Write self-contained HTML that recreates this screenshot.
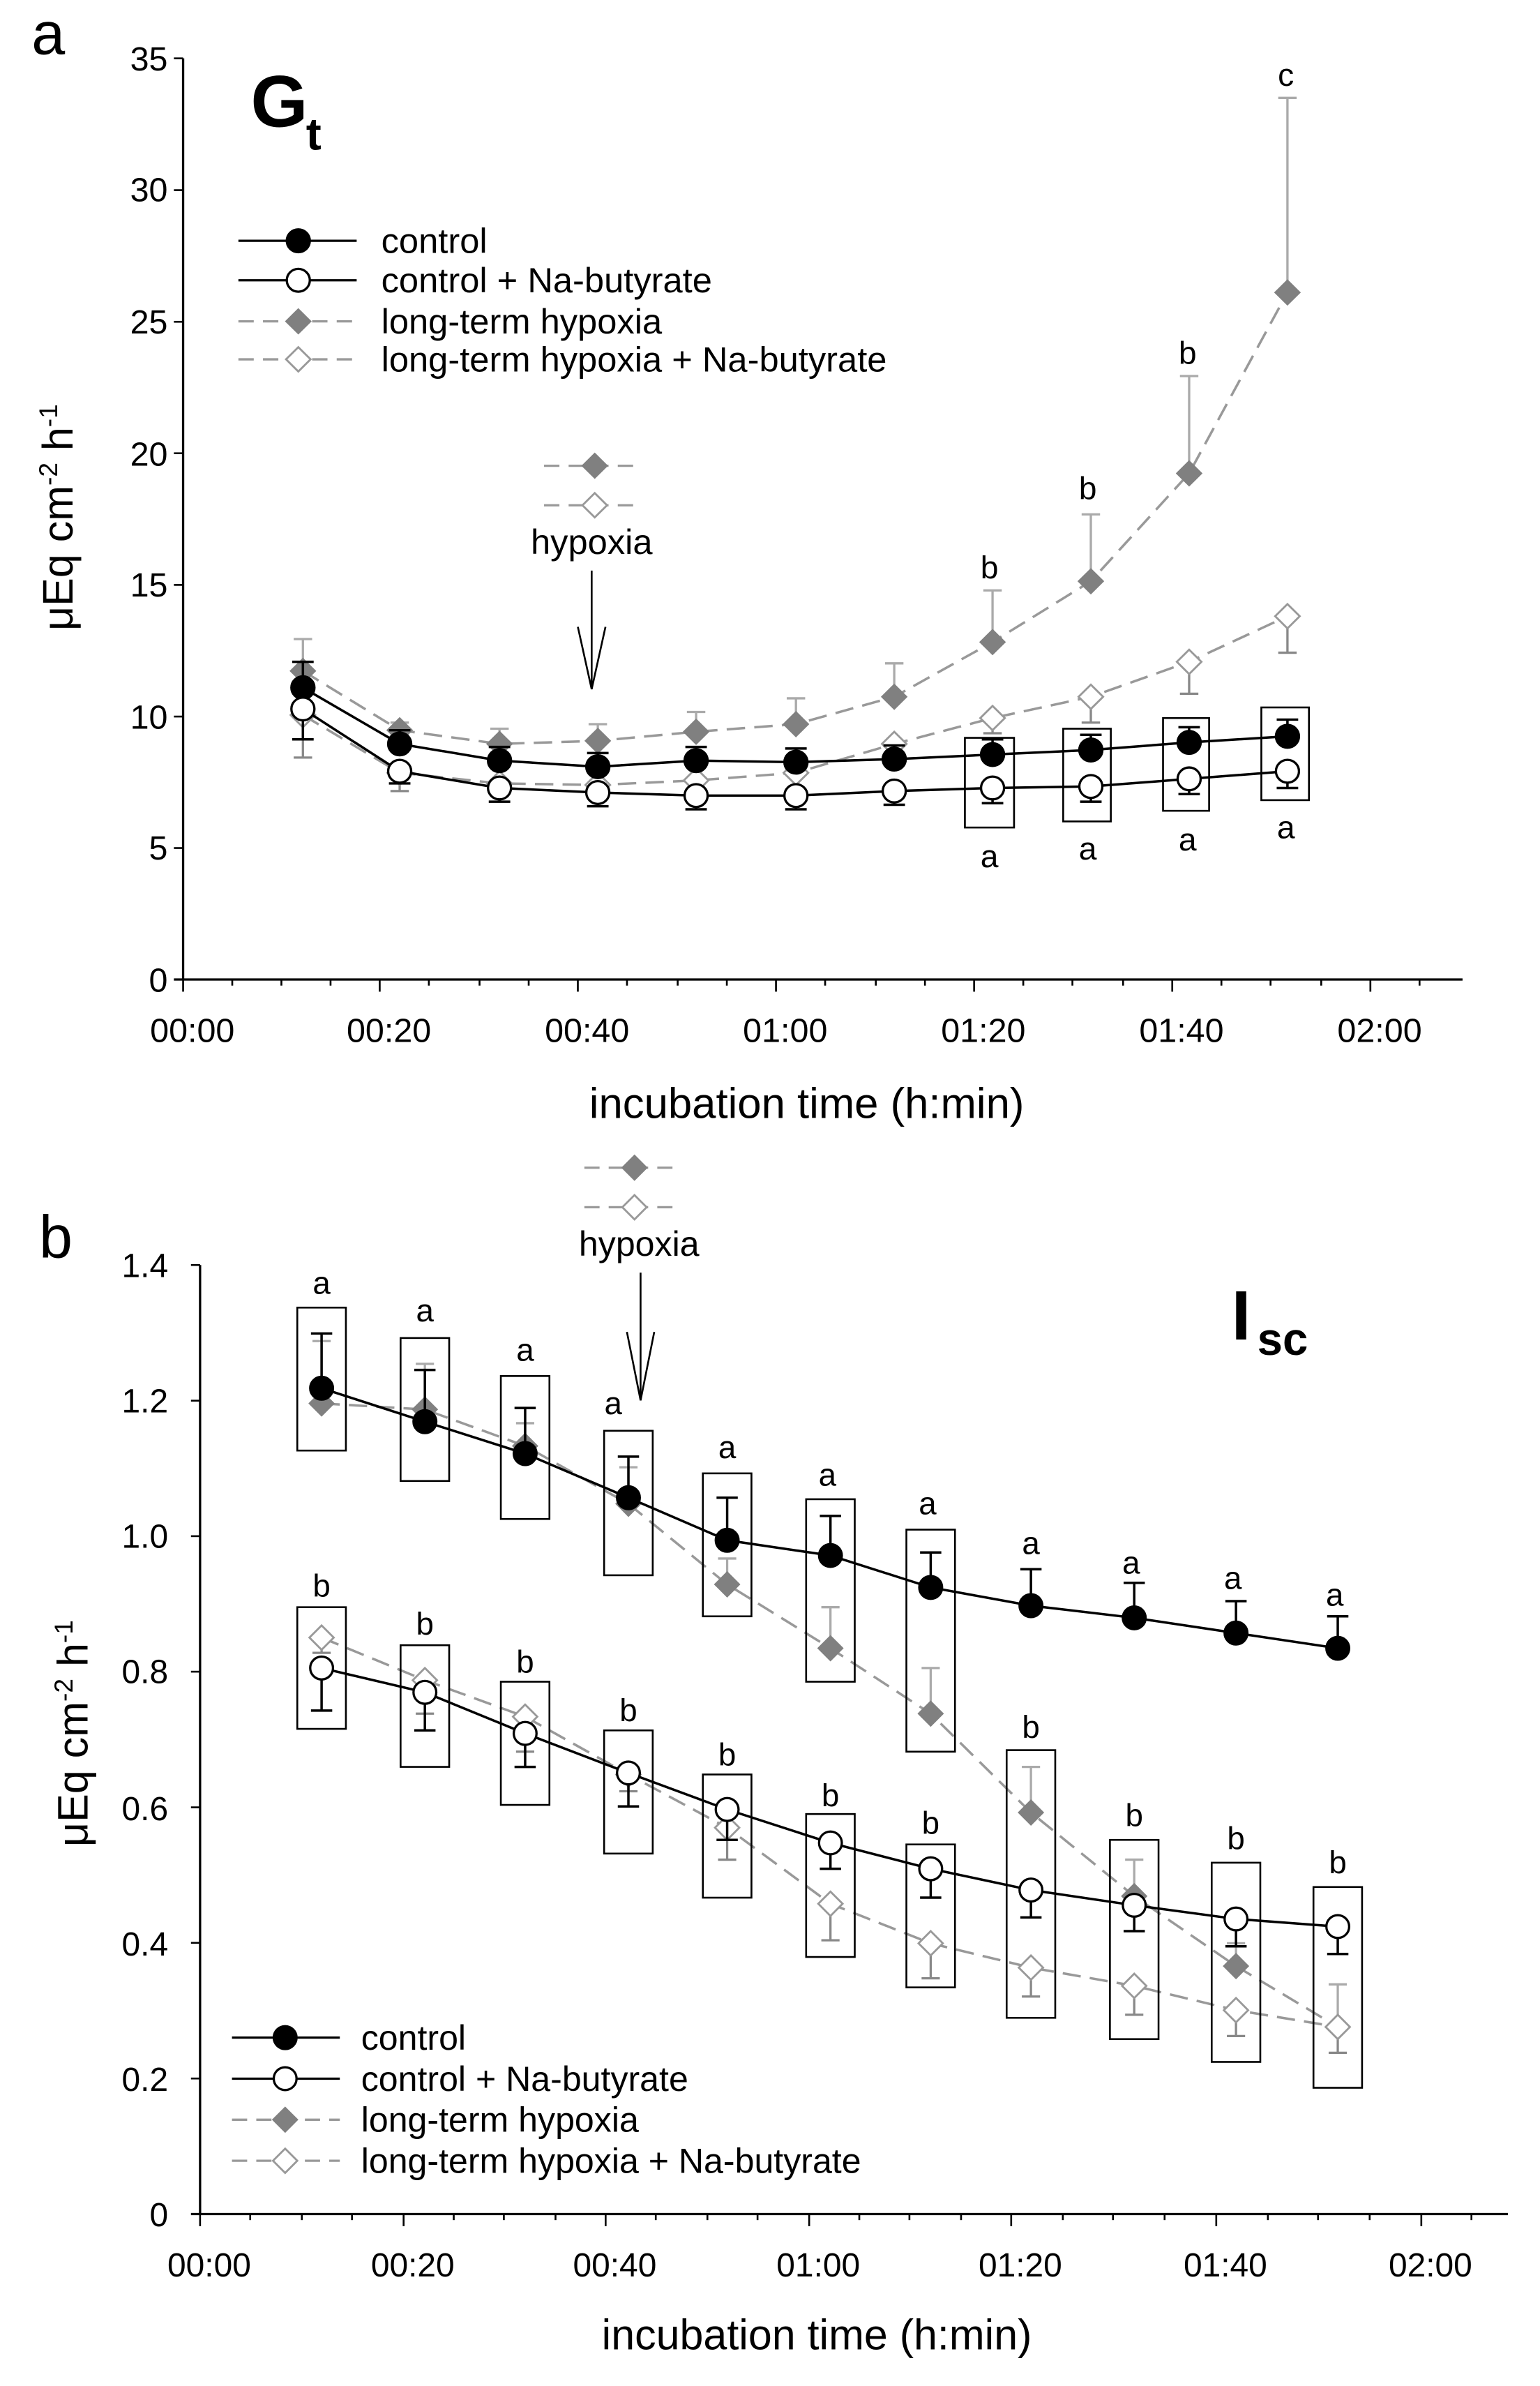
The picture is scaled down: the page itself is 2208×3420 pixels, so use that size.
<!DOCTYPE html>
<html><head><meta charset="utf-8"><style>html,body{margin:0;padding:0;background:#fff}svg{display:block}text{font-family:"Liberation Sans",sans-serif}</style></head>
<body>
<svg width="2208" height="3420" viewBox="0 0 1024 1586" preserveAspectRatio="none" xmlns="http://www.w3.org/2000/svg">
<defs>
<g id="cf"><circle r="7.5" fill="#000" stroke="#000" stroke-width="1.5"/></g>
<g id="co"><circle r="7.5" fill="#fff" stroke="#000" stroke-width="1.5"/></g>
<g id="df"><path d="M0,-8 L8,0 L0,8 L-8,0Z" fill="#808080" stroke="#808080" stroke-width="1"/></g>
<g id="do"><path d="M0,-8 L8,0 L0,8 L-8,0Z" fill="#fff" stroke="#999" stroke-width="1.3"/></g>
</defs>
<rect width="1024" height="1586" fill="#fff"/>

<text x="21" y="36" font-size="40">a</text>
<text x="26" y="836" font-size="40">b</text>

<!-- ===== PANEL A ===== -->
<g transform="matrix(1.0213,0,0,1.0104,-15.1,0.4)">
<g stroke="#000" stroke-width="1.5" fill="none">
<line x1="134" y1="38" x2="134" y2="644"/>
<line x1="128" y1="644" x2="967" y2="644"/>
</g>
<g stroke="#000" stroke-width="1.2">
<line x1="128" y1="557.5" x2="134" y2="557.5"/><line x1="128" y1="471" x2="134" y2="471"/><line x1="128" y1="384.4" x2="134" y2="384.4"/><line x1="128" y1="297.8" x2="134" y2="297.8"/><line x1="128" y1="211.3" x2="134" y2="211.3"/><line x1="128" y1="124.7" x2="134" y2="124.7"/><line x1="128" y1="38" x2="134" y2="38"/>
<line x1="134" y1="644" x2="134" y2="652"/><line x1="262" y1="644" x2="262" y2="652"/><line x1="391" y1="644" x2="391" y2="652"/><line x1="520" y1="644" x2="520" y2="652"/><line x1="649" y1="644" x2="649" y2="652"/><line x1="778" y1="644" x2="778" y2="652"/><line x1="907" y1="644" x2="907" y2="652"/>
<line x1="166" y1="644" x2="166" y2="648"/><line x1="198" y1="644" x2="198" y2="648"/><line x1="230" y1="644" x2="230" y2="648"/>
<line x1="294" y1="644" x2="294" y2="648"/><line x1="327" y1="644" x2="327" y2="648"/><line x1="359" y1="644" x2="359" y2="648"/>
<line x1="423" y1="644" x2="423" y2="648"/><line x1="456" y1="644" x2="456" y2="648"/><line x1="488" y1="644" x2="488" y2="648"/>
<line x1="552" y1="644" x2="552" y2="648"/><line x1="585" y1="644" x2="585" y2="648"/><line x1="617" y1="644" x2="617" y2="648"/>
<line x1="681" y1="644" x2="681" y2="648"/><line x1="713" y1="644" x2="713" y2="648"/><line x1="746" y1="644" x2="746" y2="648"/>
<line x1="810" y1="644" x2="810" y2="648"/><line x1="842" y1="644" x2="842" y2="648"/><line x1="875" y1="644" x2="875" y2="648"/>
<line x1="939" y1="644" x2="939" y2="648"/>
</g>
<g font-size="22" text-anchor="end">
<text x="124" y="652">0</text><text x="124" y="565">5</text><text x="124" y="479">10</text><text x="124" y="392">15</text><text x="124" y="306">20</text><text x="124" y="219">25</text><text x="124" y="132">30</text><text x="124" y="46">35</text>
</g>
<g font-size="22" text-anchor="middle">
<text x="140" y="685">00:00</text><text x="268" y="685">00:20</text><text x="397" y="685">00:40</text><text x="526" y="685">01:00</text><text x="655" y="685">01:20</text><text x="784" y="685">01:40</text><text x="913" y="685">02:00</text>
</g>
<text x="540" y="735" font-size="28" text-anchor="middle">incubation time (h:min)</text>
<text transform="translate(62,340) rotate(-90)" font-size="28" text-anchor="middle">μEq cm<tspan dy="-10" font-size="17">-2</tspan><tspan dy="10"> h</tspan><tspan dy="-10" font-size="17">-1</tspan></text>
<text x="178" y="83" font-size="48" font-weight="bold">G</text><text x="214" y="98" font-size="30" font-weight="bold">t</text>

<line x1="170" y1="158" x2="247" y2="158" stroke="#000" stroke-width="1.5"/><use href="#cf" x="209" y="158"/>
<line x1="170" y1="184" x2="247" y2="184" stroke="#000" stroke-width="1.5"/><use href="#co" x="209" y="184"/>
<line x1="170" y1="211" x2="247" y2="211" stroke="#999" stroke-width="1.5" stroke-dasharray="10,6"/><use href="#df" x="209" y="211"/>
<line x1="170" y1="236" x2="247" y2="236" stroke="#999" stroke-width="1.5" stroke-dasharray="10,6"/><use href="#do" x="209" y="236"/>
<g font-size="23"><text x="263" y="166">control</text><text x="263" y="192">control + Na-butyrate</text><text x="263" y="219">long-term hypoxia</text><text x="263" y="244">long-term hypoxia + Na-butyrate</text></g>

<line x1="369" y1="306" x2="432" y2="306" stroke="#999" stroke-width="1.5" stroke-dasharray="10,6"/><use href="#df" x="402" y="306"/>
<line x1="369" y1="332" x2="432" y2="332" stroke="#999" stroke-width="1.5" stroke-dasharray="10,6"/><use href="#do" x="402" y="332"/>
<text x="400" y="364" font-size="23" text-anchor="middle">hypoxia</text>
<line x1="400" y1="375" x2="400" y2="453" stroke="#000" stroke-width="1.2"/>
<path d="M391,412 L400,453 L409,412" fill="none" stroke="#000" stroke-width="1.2"/>

<g stroke="#aaa" stroke-width="1.5">
<line x1="212" y1="441" x2="212" y2="420"/><line x1="206" y1="420" x2="218" y2="420"/>
<line x1="275" y1="480" x2="275" y2="475"/><line x1="269" y1="475" x2="281" y2="475"/>
<line x1="340" y1="489" x2="340" y2="479"/><line x1="334" y1="479" x2="346" y2="479"/>
<line x1="404" y1="487" x2="404" y2="476"/><line x1="398" y1="476" x2="410" y2="476"/>
<line x1="468" y1="481" x2="468" y2="468"/><line x1="462" y1="468" x2="474" y2="468"/>
<line x1="533" y1="476" x2="533" y2="459"/><line x1="527" y1="459" x2="539" y2="459"/>
<line x1="597" y1="458" x2="597" y2="436"/><line x1="591" y1="436" x2="603" y2="436"/>
<line x1="661" y1="422" x2="661" y2="388"/><line x1="655" y1="388" x2="667" y2="388"/>
<line x1="725" y1="382" x2="725" y2="338"/><line x1="719" y1="338" x2="731" y2="338"/>
<line x1="789" y1="311" x2="789" y2="247"/><line x1="783" y1="247" x2="795" y2="247"/>
<line x1="853" y1="192" x2="853" y2="64"/><line x1="847" y1="64" x2="859" y2="64"/>
</g>
<g stroke="#888" stroke-width="1.5">
<line x1="212" y1="470" x2="212" y2="498"/><line x1="206" y1="498" x2="218" y2="498"/>
<line x1="275" y1="508" x2="275" y2="520"/><line x1="269" y1="520" x2="281" y2="520"/>
<line x1="340" y1="515" x2="340" y2="523"/><line x1="334" y1="523" x2="346" y2="523"/>
<line x1="661" y1="472" x2="661" y2="482"/><line x1="655" y1="482" x2="667" y2="482"/>
<line x1="725" y1="458" x2="725" y2="475"/><line x1="719" y1="475" x2="731" y2="475"/>
<line x1="789" y1="435" x2="789" y2="456"/><line x1="783" y1="456" x2="795" y2="456"/>
<line x1="853" y1="405" x2="853" y2="429"/><line x1="847" y1="429" x2="859" y2="429"/>
</g>
<polyline points="212,441 275,480 340,489 404,487 468,481 533,476 597,458 661,422 725,382 789,311 853,192" fill="none" stroke="#999" stroke-width="1.6" stroke-dasharray="12,6"/>
<polyline points="212,470 275,508 340,515 404,516 468,513 533,508 597,489 661,472 725,458 789,435 853,405" fill="none" stroke="#999" stroke-width="1.6" stroke-dasharray="12,6"/>
<g><use href="#df" x="212" y="441"/><use href="#df" x="275" y="480"/><use href="#df" x="340" y="489"/><use href="#df" x="404" y="487"/><use href="#df" x="468" y="481"/><use href="#df" x="533" y="476"/><use href="#df" x="597" y="458"/><use href="#df" x="661" y="422"/><use href="#df" x="725" y="382"/><use href="#df" x="789" y="311"/><use href="#df" x="853" y="192"/></g>
<g><use href="#do" x="212" y="470"/><use href="#do" x="275" y="508"/><use href="#do" x="340" y="515"/><use href="#do" x="404" y="516"/><use href="#do" x="468" y="513"/><use href="#do" x="533" y="508"/><use href="#do" x="597" y="489"/><use href="#do" x="661" y="472"/><use href="#do" x="725" y="458"/><use href="#do" x="789" y="435"/><use href="#do" x="853" y="405"/></g>

<g fill="none" stroke="#000" stroke-width="1.2">
<rect x="643" y="485" width="32" height="59"/><rect x="707" y="479" width="31" height="61"/><rect x="772" y="472" width="30" height="61"/><rect x="836" y="465" width="31" height="61"/>
</g>
<g stroke="#000" stroke-width="1.6">
<line x1="212" y1="452" x2="212" y2="435"/><line x1="205" y1="435" x2="219" y2="435"/>
<line x1="275" y1="489" x2="275" y2="480"/><line x1="268" y1="480" x2="282" y2="480"/>
<line x1="340" y1="500" x2="340" y2="491"/><line x1="333" y1="491" x2="347" y2="491"/>
<line x1="404" y1="504" x2="404" y2="495"/><line x1="397" y1="495" x2="411" y2="495"/>
<line x1="468" y1="500" x2="468" y2="491"/><line x1="461" y1="491" x2="475" y2="491"/>
<line x1="533" y1="501" x2="533" y2="492"/><line x1="526" y1="492" x2="540" y2="492"/>
<line x1="597" y1="499" x2="597" y2="490"/><line x1="590" y1="490" x2="604" y2="490"/>
<line x1="661" y1="496" x2="661" y2="486"/><line x1="654" y1="486" x2="668" y2="486"/>
<line x1="725" y1="493" x2="725" y2="483"/><line x1="718" y1="483" x2="732" y2="483"/>
<line x1="789" y1="488" x2="789" y2="478"/><line x1="782" y1="478" x2="796" y2="478"/>
<line x1="853" y1="484" x2="853" y2="473"/><line x1="846" y1="473" x2="860" y2="473"/>
<line x1="212" y1="466" x2="212" y2="486"/><line x1="205" y1="486" x2="219" y2="486"/>
<line x1="275" y1="507" x2="275" y2="515"/><line x1="268" y1="515" x2="282" y2="515"/>
<line x1="340" y1="518" x2="340" y2="527"/><line x1="333" y1="527" x2="347" y2="527"/>
<line x1="404" y1="521" x2="404" y2="530"/><line x1="397" y1="530" x2="411" y2="530"/>
<line x1="468" y1="523" x2="468" y2="532"/><line x1="461" y1="532" x2="475" y2="532"/>
<line x1="533" y1="523" x2="533" y2="532"/><line x1="526" y1="532" x2="540" y2="532"/>
<line x1="597" y1="520" x2="597" y2="529"/><line x1="590" y1="529" x2="604" y2="529"/>
<line x1="661" y1="518" x2="661" y2="528"/><line x1="654" y1="528" x2="668" y2="528"/>
<line x1="725" y1="517" x2="725" y2="527"/><line x1="718" y1="527" x2="732" y2="527"/>
<line x1="789" y1="512" x2="789" y2="522"/><line x1="782" y1="522" x2="796" y2="522"/>
<line x1="853" y1="507" x2="853" y2="518"/><line x1="846" y1="518" x2="860" y2="518"/>
</g>
<polyline points="212,452 275,489 340,500 404,504 468,500 533,501 597,499 661,496 725,493 789,488 853,484" fill="none" stroke="#000" stroke-width="1.6"/>
<polyline points="212,466 275,507 340,518 404,521 468,523 533,523 597,520 661,518 725,517 789,512 853,507" fill="none" stroke="#000" stroke-width="1.6"/>
<g><use href="#cf" x="212" y="452"/><use href="#cf" x="275" y="489"/><use href="#cf" x="340" y="500"/><use href="#cf" x="404" y="504"/><use href="#cf" x="468" y="500"/><use href="#cf" x="533" y="501"/><use href="#cf" x="597" y="499"/><use href="#cf" x="661" y="496"/><use href="#cf" x="725" y="493"/><use href="#cf" x="789" y="488"/><use href="#cf" x="853" y="484"/></g>
<g><use href="#co" x="212" y="466"/><use href="#co" x="275" y="507"/><use href="#co" x="340" y="518"/><use href="#co" x="404" y="521"/><use href="#co" x="468" y="523"/><use href="#co" x="533" y="523"/><use href="#co" x="597" y="520"/><use href="#co" x="661" y="518"/><use href="#co" x="725" y="517"/><use href="#co" x="789" y="512"/><use href="#co" x="853" y="507"/></g>
<g font-size="21" text-anchor="middle">
<text x="659" y="570">a</text><text x="723" y="565">a</text><text x="788" y="559">a</text><text x="852" y="551">a</text>
<text x="659" y="380">b</text><text x="723" y="328">b</text><text x="788" y="239">b</text><text x="852" y="56">c</text>
</g>
</g>

<!-- ===== PANEL B ===== -->
<g transform="matrix(1.01,0,0,1.0109,-2.3,-0.2)">
<g stroke="#000" stroke-width="1.5" fill="none">
<line x1="134" y1="832" x2="134" y2="1456"/>
<line x1="128" y1="1456" x2="995" y2="1456"/>
</g>
<g stroke="#000" stroke-width="1.2">
<line x1="128" y1="1366.9" x2="134" y2="1366.9"/><line x1="128" y1="1277.7" x2="134" y2="1277.7"/><line x1="128" y1="1188.6" x2="134" y2="1188.6"/><line x1="128" y1="1099.4" x2="134" y2="1099.4"/><line x1="128" y1="1010.3" x2="134" y2="1010.3"/><line x1="128" y1="921.2" x2="134" y2="921.2"/><line x1="128" y1="832" x2="134" y2="832"/>
<line x1="134" y1="1456" x2="134" y2="1464"/><line x1="268" y1="1456" x2="268" y2="1464"/><line x1="401" y1="1456" x2="401" y2="1464"/><line x1="535" y1="1456" x2="535" y2="1464"/><line x1="668" y1="1456" x2="668" y2="1464"/><line x1="803" y1="1456" x2="803" y2="1464"/><line x1="938" y1="1456" x2="938" y2="1464"/>
<line x1="167" y1="1456" x2="167" y2="1460"/><line x1="201" y1="1456" x2="201" y2="1460"/><line x1="234" y1="1456" x2="234" y2="1460"/>
<line x1="301" y1="1456" x2="301" y2="1460"/><line x1="334" y1="1456" x2="334" y2="1460"/><line x1="368" y1="1456" x2="368" y2="1460"/>
<line x1="434" y1="1456" x2="434" y2="1460"/><line x1="468" y1="1456" x2="468" y2="1460"/><line x1="501" y1="1456" x2="501" y2="1460"/>
<line x1="568" y1="1456" x2="568" y2="1460"/><line x1="601" y1="1456" x2="601" y2="1460"/><line x1="635" y1="1456" x2="635" y2="1460"/>
<line x1="702" y1="1456" x2="702" y2="1460"/><line x1="735" y1="1456" x2="735" y2="1460"/><line x1="769" y1="1456" x2="769" y2="1460"/>
<line x1="837" y1="1456" x2="837" y2="1460"/><line x1="870" y1="1456" x2="870" y2="1460"/><line x1="904" y1="1456" x2="904" y2="1460"/>
<line x1="971" y1="1456" x2="971" y2="1460"/>
</g>
<g font-size="22" text-anchor="end">
<text x="113" y="1464">0</text><text x="113" y="1375">0.2</text><text x="113" y="1286">0.4</text><text x="113" y="1197">0.6</text><text x="113" y="1107">0.8</text><text x="113" y="1018">1.0</text><text x="113" y="929">1.2</text><text x="113" y="840">1.4</text>
</g>
<g font-size="22" text-anchor="middle">
<text x="140" y="1497">00:00</text><text x="274" y="1497">00:20</text><text x="407" y="1497">00:40</text><text x="541" y="1497">01:00</text><text x="674" y="1497">01:20</text><text x="809" y="1497">01:40</text><text x="944" y="1497">02:00</text>
</g>
<text x="540" y="1545" font-size="28" text-anchor="middle">incubation time (h:min)</text>
<text transform="translate(60,1140) rotate(-90)" font-size="28" text-anchor="middle">μEq cm<tspan dy="-10" font-size="17">-2</tspan><tspan dy="10"> h</tspan><tspan dy="-10" font-size="17">-1</tspan></text>
<text x="813" y="881" font-size="46" font-weight="bold">I</text><text x="830" y="891" font-size="30" font-weight="bold">sc</text>

<line x1="387" y1="768" x2="450" y2="768" stroke="#999" stroke-width="1.5" stroke-dasharray="10,6"/><use href="#df" x="420" y="768"/>
<line x1="387" y1="794" x2="450" y2="794" stroke="#999" stroke-width="1.5" stroke-dasharray="10,6"/><use href="#do" x="420" y="794"/>
<text x="423" y="826" font-size="23" text-anchor="middle">hypoxia</text>
<line x1="424" y1="837" x2="424" y2="921" stroke="#000" stroke-width="1.2"/>
<path d="M415,876 L424,921 L433,876" fill="none" stroke="#000" stroke-width="1.2"/>

<line x1="155" y1="1340" x2="226" y2="1340" stroke="#000" stroke-width="1.5"/><use href="#cf" x="190" y="1340"/>
<line x1="155" y1="1367" x2="226" y2="1367" stroke="#000" stroke-width="1.5"/><use href="#co" x="190" y="1367"/>
<line x1="155" y1="1394" x2="226" y2="1394" stroke="#999" stroke-width="1.5" stroke-dasharray="10,6"/><use href="#df" x="190" y="1394"/>
<line x1="155" y1="1421" x2="226" y2="1421" stroke="#999" stroke-width="1.5" stroke-dasharray="10,6"/><use href="#do" x="190" y="1421"/>
<g font-size="23"><text x="240" y="1348">control</text><text x="240" y="1375">control + Na-butyrate</text><text x="240" y="1402">long-term hypoxia</text><text x="240" y="1429">long-term hypoxia + Na-butyrate</text></g>

<g stroke="#aaa" stroke-width="1.5">
<line x1="214" y1="923" x2="214" y2="882"/><line x1="208" y1="882" x2="220" y2="882"/>
<line x1="282" y1="927" x2="282" y2="897"/><line x1="276" y1="897" x2="288" y2="897"/>
<line x1="348" y1="951" x2="348" y2="936"/><line x1="342" y1="936" x2="354" y2="936"/>
<line x1="416" y1="989" x2="416" y2="965"/><line x1="410" y1="965" x2="422" y2="965"/>
<line x1="481" y1="1042" x2="481" y2="1025"/><line x1="475" y1="1025" x2="487" y2="1025"/>
<line x1="549" y1="1084" x2="549" y2="1057"/><line x1="543" y1="1057" x2="555" y2="1057"/>
<line x1="615" y1="1127" x2="615" y2="1097"/><line x1="609" y1="1097" x2="621" y2="1097"/>
<line x1="681" y1="1192" x2="681" y2="1162"/><line x1="675" y1="1162" x2="687" y2="1162"/>
<line x1="749" y1="1247" x2="749" y2="1223"/><line x1="743" y1="1223" x2="755" y2="1223"/>
<line x1="816" y1="1293" x2="816" y2="1278"/><line x1="810" y1="1278" x2="822" y2="1278"/>
<line x1="883" y1="1333" x2="883" y2="1305"/><line x1="877" y1="1305" x2="889" y2="1305"/>
</g>
<g stroke="#888" stroke-width="1.5">
<line x1="214" y1="1077" x2="214" y2="1087"/><line x1="208" y1="1087" x2="220" y2="1087"/>
<line x1="282" y1="1105" x2="282" y2="1127"/><line x1="276" y1="1127" x2="288" y2="1127"/>
<line x1="348" y1="1129" x2="348" y2="1152"/><line x1="342" y1="1152" x2="354" y2="1152"/>
<line x1="416" y1="1167" x2="416" y2="1178"/><line x1="410" y1="1178" x2="422" y2="1178"/>
<line x1="481" y1="1202" x2="481" y2="1223"/><line x1="475" y1="1223" x2="487" y2="1223"/>
<line x1="549" y1="1252" x2="549" y2="1276"/><line x1="543" y1="1276" x2="555" y2="1276"/>
<line x1="615" y1="1278" x2="615" y2="1301"/><line x1="609" y1="1301" x2="621" y2="1301"/>
<line x1="681" y1="1294" x2="681" y2="1313"/><line x1="675" y1="1313" x2="687" y2="1313"/>
<line x1="749" y1="1306" x2="749" y2="1325"/><line x1="743" y1="1325" x2="755" y2="1325"/>
<line x1="816" y1="1322" x2="816" y2="1339"/><line x1="810" y1="1339" x2="822" y2="1339"/>
<line x1="883" y1="1333" x2="883" y2="1350"/><line x1="877" y1="1350" x2="889" y2="1350"/>
</g>
<polyline points="214,923 282,927 348,951 416,989 481,1042 549,1084 615,1127 681,1192 749,1247 816,1293 883,1333" fill="none" stroke="#999" stroke-width="1.6" stroke-dasharray="12,6"/>
<polyline points="214,1077 282,1105 348,1129 416,1167 481,1202 549,1252 615,1278 681,1294 749,1306 816,1322 883,1333" fill="none" stroke="#999" stroke-width="1.6" stroke-dasharray="12,6"/>
<g><use href="#df" x="214" y="923"/><use href="#df" x="282" y="927"/><use href="#df" x="348" y="951"/><use href="#df" x="416" y="989"/><use href="#df" x="481" y="1042"/><use href="#df" x="549" y="1084"/><use href="#df" x="615" y="1127"/><use href="#df" x="681" y="1192"/><use href="#df" x="749" y="1247"/><use href="#df" x="816" y="1293"/><use href="#df" x="883" y="1333"/></g>
<g><use href="#do" x="214" y="1077"/><use href="#do" x="282" y="1105"/><use href="#do" x="348" y="1129"/><use href="#do" x="416" y="1167"/><use href="#do" x="481" y="1202"/><use href="#do" x="549" y="1252"/><use href="#do" x="615" y="1278"/><use href="#do" x="681" y="1294"/><use href="#do" x="749" y="1306"/><use href="#do" x="816" y="1322"/><use href="#do" x="883" y="1333"/></g>

<g fill="none" stroke="#000" stroke-width="1.2">
<rect x="198" y="860" width="32" height="94"/><rect x="266" y="880" width="32" height="94"/><rect x="332" y="905" width="32" height="94"/><rect x="400" y="941" width="32" height="95"/><rect x="465" y="969" width="32" height="94"/><rect x="533" y="986" width="32" height="120"/><rect x="599" y="1006" width="32" height="146"/>
<rect x="198" y="1057" width="32" height="80"/><rect x="266" y="1082" width="32" height="80"/><rect x="332" y="1106" width="32" height="81"/><rect x="400" y="1138" width="32" height="81"/><rect x="465" y="1167" width="32" height="81"/><rect x="533" y="1193" width="32" height="94"/><rect x="599" y="1213" width="32" height="94"/><rect x="665" y="1151" width="32" height="176"/><rect x="733" y="1210" width="32" height="131"/><rect x="800" y="1225" width="32" height="131"/><rect x="867" y="1241" width="32" height="132"/>
</g>
<g stroke="#000" stroke-width="1.6">
<line x1="214" y1="913" x2="214" y2="877"/><line x1="207" y1="877" x2="221" y2="877"/>
<line x1="282" y1="935" x2="282" y2="901"/><line x1="275" y1="901" x2="289" y2="901"/>
<line x1="348" y1="956" x2="348" y2="926"/><line x1="341" y1="926" x2="355" y2="926"/>
<line x1="416" y1="985" x2="416" y2="958"/><line x1="409" y1="958" x2="423" y2="958"/>
<line x1="481" y1="1013" x2="481" y2="985"/><line x1="474" y1="985" x2="488" y2="985"/>
<line x1="549" y1="1023" x2="549" y2="997"/><line x1="542" y1="997" x2="556" y2="997"/>
<line x1="615" y1="1044" x2="615" y2="1021"/><line x1="608" y1="1021" x2="622" y2="1021"/>
<line x1="681" y1="1056" x2="681" y2="1032"/><line x1="674" y1="1032" x2="688" y2="1032"/>
<line x1="749" y1="1064" x2="749" y2="1041"/><line x1="742" y1="1041" x2="756" y2="1041"/>
<line x1="816" y1="1074" x2="816" y2="1053"/><line x1="809" y1="1053" x2="823" y2="1053"/>
<line x1="883" y1="1084" x2="883" y2="1063"/><line x1="876" y1="1063" x2="890" y2="1063"/>
<line x1="214" y1="1097" x2="214" y2="1125"/><line x1="207" y1="1125" x2="221" y2="1125"/>
<line x1="282" y1="1113" x2="282" y2="1138"/><line x1="275" y1="1138" x2="289" y2="1138"/>
<line x1="348" y1="1140" x2="348" y2="1162"/><line x1="341" y1="1162" x2="355" y2="1162"/>
<line x1="416" y1="1166" x2="416" y2="1188"/><line x1="409" y1="1188" x2="423" y2="1188"/>
<line x1="481" y1="1190" x2="481" y2="1210"/><line x1="474" y1="1210" x2="488" y2="1210"/>
<line x1="549" y1="1212" x2="549" y2="1229"/><line x1="542" y1="1229" x2="556" y2="1229"/>
<line x1="615" y1="1229" x2="615" y2="1248"/><line x1="608" y1="1248" x2="622" y2="1248"/>
<line x1="681" y1="1243" x2="681" y2="1261"/><line x1="674" y1="1261" x2="688" y2="1261"/>
<line x1="749" y1="1253" x2="749" y2="1270"/><line x1="742" y1="1270" x2="756" y2="1270"/>
<line x1="816" y1="1262" x2="816" y2="1280"/><line x1="809" y1="1280" x2="823" y2="1280"/>
<line x1="883" y1="1267" x2="883" y2="1285"/><line x1="876" y1="1285" x2="890" y2="1285"/>
</g>
<polyline points="214,913 282,935 348,956 416,985 481,1013 549,1023 615,1044 681,1056 749,1064 816,1074 883,1084" fill="none" stroke="#000" stroke-width="1.6"/>
<polyline points="214,1097 282,1113 348,1140 416,1166 481,1190 549,1212 615,1229 681,1243 749,1253 816,1262 883,1267" fill="none" stroke="#000" stroke-width="1.6"/>
<g><use href="#cf" x="214" y="913"/><use href="#cf" x="282" y="935"/><use href="#cf" x="348" y="956"/><use href="#cf" x="416" y="985"/><use href="#cf" x="481" y="1013"/><use href="#cf" x="549" y="1023"/><use href="#cf" x="615" y="1044"/><use href="#cf" x="681" y="1056"/><use href="#cf" x="749" y="1064"/><use href="#cf" x="816" y="1074"/><use href="#cf" x="883" y="1084"/></g>
<g><use href="#co" x="214" y="1097"/><use href="#co" x="282" y="1113"/><use href="#co" x="348" y="1140"/><use href="#co" x="416" y="1166"/><use href="#co" x="481" y="1190"/><use href="#co" x="549" y="1212"/><use href="#co" x="615" y="1229"/><use href="#co" x="681" y="1243"/><use href="#co" x="749" y="1253"/><use href="#co" x="816" y="1262"/><use href="#co" x="883" y="1267"/></g>
<g font-size="21" text-anchor="middle">
<text x="214" y="851">a</text><text x="282" y="869">a</text><text x="348" y="895">a</text><text x="406" y="930">a</text><text x="481" y="959">a</text><text x="547" y="977">a</text><text x="613" y="996">a</text><text x="681" y="1022">a</text><text x="747" y="1035">a</text><text x="814" y="1045">a</text><text x="881" y="1056">a</text>
<text x="214" y="1050">b</text><text x="282" y="1075">b</text><text x="348" y="1100">b</text><text x="416" y="1132">b</text><text x="481" y="1161">b</text><text x="549" y="1188">b</text><text x="615" y="1206">b</text><text x="681" y="1143">b</text><text x="749" y="1201">b</text><text x="816" y="1216">b</text><text x="883" y="1232">b</text>
</g>
</g>
</svg>
</body></html>
